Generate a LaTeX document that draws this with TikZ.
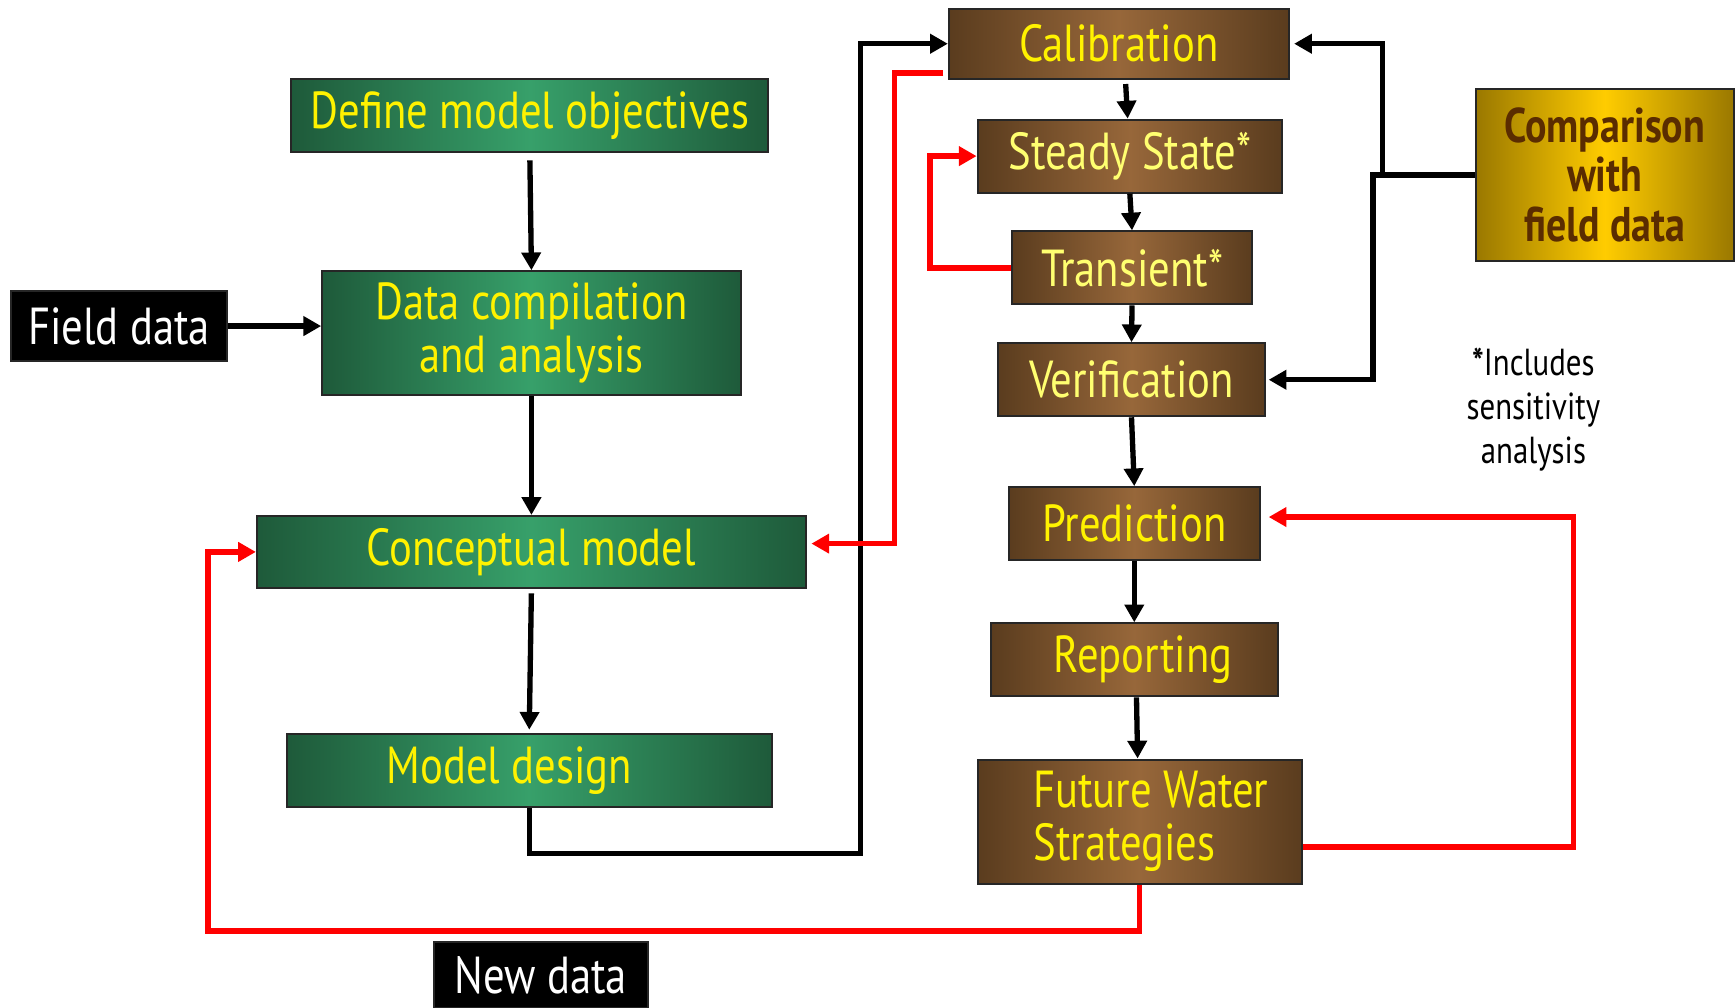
\documentclass[tikz,border=0pt]{standalone}
\usepackage{fontspec}
\setmainfont{PT Sans}[FakeStretch=0.82]
\usetikzlibrary{arrows.meta}

\definecolor{gEdge}{HTML}{1E5A3A}
\definecolor{gMid}{HTML}{37A06A}
\definecolor{bEdge}{HTML}{5A3C1E}
\definecolor{bMid}{HTML}{97673A}
\definecolor{oEdge}{HTML}{9A7800}
\definecolor{oMid}{HTML}{FFCC00}
\definecolor{paleyel}{HTML}{FFFF70}
\definecolor{darkbrn}{HTML}{5A2C00}

\begin{document}
\begin{tikzpicture}[x=0.5pt, y=-0.5pt,
		box/.style={draw=black!85, line width=0.9pt, inner sep=0pt, align=center,
			font=\fontsize{23.5}{24}\selectfont},
		greenbox/.style={box, left color=gEdge, right color=gEdge, middle color=gMid, text=yellow},
		brownbox/.style={box, left color=bEdge, right color=bEdge, middle color=bMid, text=yellow},
		blackbox/.style={box, fill=black, text=white},
		flow/.style={line width=2.4pt, -{Triangle[length=8pt,width=8.5pt]}},
		redflow/.style={flow, color=red}]
		\useasboundingbox (0,0) rectangle (1568,910);
		
		% left column
		\node[greenbox, minimum width=215.5pt, minimum height=33pt] (define) at (478.5,104) {Define model objectives};
		\node[greenbox, minimum width=189pt, minimum height=56pt] (compile) at (480,301) {Data compilation\\and analysis};
		\node[greenbox, minimum width=248pt, minimum height=32.5pt] (concept) at (480,498.5) {Conceptual model};
		\node[greenbox, minimum width=219pt, minimum height=33pt] (design) at (478,696) {\hspace*{-18pt}Model design};
		\node[blackbox, minimum width=97.5pt, minimum height=31.5pt] (field) at (107.5,294.5) {Field data};
		\node[blackbox, minimum width=96.5pt, minimum height=29.5pt] (newdata) at (488.5,880.5) {New data};
		
		% right column
		\node[brownbox, minimum width=153.5pt, minimum height=31.5pt] (calib) at (1010.5,39.5) {Calibration};
		\node[brownbox, text=paleyel, minimum width=137.5pt, minimum height=33pt] (steady) at (1020.5,141) {Steady State*};
		\node[brownbox, text=paleyel, minimum width=108.5pt, minimum height=33pt] (transient) at (1022.5,242) {Transient*};
		\node[brownbox, text=paleyel, minimum width=121pt, minimum height=33pt] (verif) at (1022,343) {Verification};
		\node[brownbox, minimum width=113.5pt, minimum height=33pt] (predict) at (1024.5,473) {Prediction};
		\node[brownbox, minimum width=129.5pt, minimum height=33pt] (report) at (1024.5,596) {\hspace*{8pt}Reporting};
		\node[brownbox, align=left, minimum width=146.5pt, minimum height=56pt] (future) at (1029.5,742) {\hspace*{10pt}Future Water\\\hspace*{10pt}Strategies};
		\node[box, left color=oEdge, right color=oEdge, middle color=oMid, text=darkbrn,
			font=\fontsize{22}{22.5}\selectfont\bfseries,
			minimum width=116.5pt, minimum height=78pt] (compare) at (1449.5,158) {Comparison\\with\\field data};
		\node[align=center, inner sep=0pt, font=\fontsize{17}{20}\selectfont] (note) at (1385,370) {\textbf{*}Includes\\sensitivity\\analysis};
		
		% black connectors
		\draw[flow, shorten <=3.5pt] (define.south) -- (compile.north);
		\draw[flow] (field.east) -- (field.east -| compile.west);
		\draw[flow] (compile.south) -- (concept.north);
		\draw[flow, shorten <=2pt, shorten >=1.5pt] (concept.south) -- (design.north);
		\draw[flow] (design.south) |- (777,771) |- (calib.west);
		\draw[flow, shorten <=2pt] ([xshift=3pt]calib.south) -- ([xshift=-1pt]steady.north);
		\draw[flow] (steady.south) -- (transient.north);
		\draw[flow] (transient.south) -- (verif.north);
		\draw[flow] (verif.south) -- (predict.north);
		\draw[flow] (predict.south) -- (report.north);
		\draw[flow] ([xshift=1pt]report.south) -- ([xshift=-1pt]future.north);
		
		% comparison feeds calibration and verification
		\coordinate (split) at (1240,158);
		\coordinate (upper) at (1249,158);
		\draw[flow, shorten >=1pt] (compare.west) -- (split) |- (verif.east);
		\draw[flow, shorten >=2pt] (upper) |- (calib.east);
		
		% red feedback loops
		\draw[redflow, shorten >=2pt] ([xshift=-2pt, yshift=3pt]calib.south west) -| (808,491) -- ([yshift=3.75pt]concept.east);
		\draw[redflow] (transient.west) -| (840,141) -- (steady.west);
		\draw[redflow, shorten >=3.5pt] ([yshift=-11.5pt]future.east) -| (1421,467) -- ([yshift=3pt]predict.east);
		\draw[redflow] (future.south) |- (188,841) |- (concept.west);
	\end{tikzpicture}
\end{document}
